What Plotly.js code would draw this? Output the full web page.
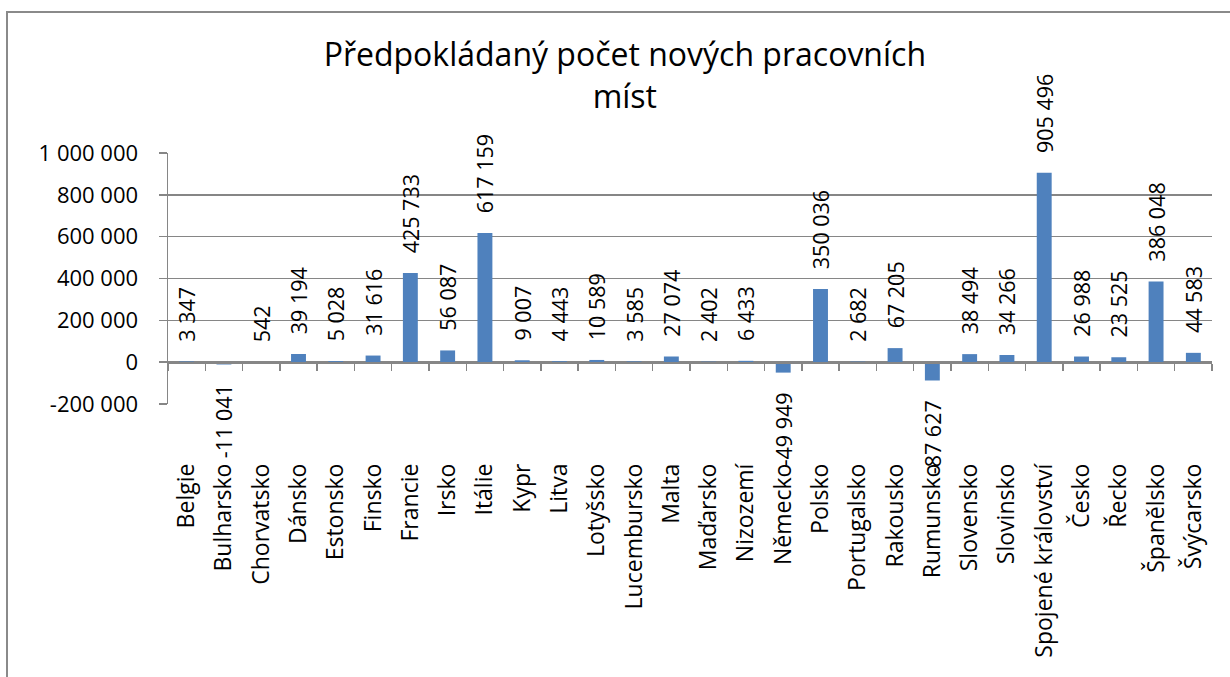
<!DOCTYPE html>
<html>
<head>
<meta charset="utf-8">
<script src="https://cdn.plot.ly/plotly-3.0.1.min.js"></script>
<style>
  html, body { margin: 0; padding: 0; background: #fff; overflow: hidden; }
  #frame { position: absolute; left: 6px; top: 11px; width: 1240px; height: 700px; border: 2px solid #8a8a8a; box-sizing: border-box; }
  #chart { position: absolute; left: 0; top: 0; width: 1230px; height: 677px; }
</style>
</head>
<body>
<div id="frame"></div>
<div id="chart"></div>
<script>
const categories = ["Belgie","Bulharsko","Chorvatsko","Dánsko","Estonsko","Finsko","Francie","Irsko","Itálie","Kypr","Litva","Lotyšsko","Lucembursko","Malta","Maďarsko","Nizozemí","Německo","Polsko","Portugalsko","Rakousko","Rumunsko","Slovensko","Slovinsko","Spojené království","Česko","Řecko","Španělsko","Švýcarsko"];
const values = [3347,-11041,542,39194,5028,31616,425733,56087,617159,9007,4443,10589,3585,27074,2402,6433,-49949,350036,2682,67205,-87627,38494,34266,905496,26988,23525,386048,44583];
const yTickVals = [-200000,0,200000,400000,600000,800000,1000000];
const yTickText = ["-200 000","0","200 000","400 000","600 000","800 000","1 000 000"];
const titleText = "Předpokládaný počet nových pracovních<br>míst";

const PAD = "\u00a0\u00a0\u00a0";
function fmt(v) {
  const s = Math.abs(v).toString().replace(/\B(?=(\d{3})+(?!\d))/g, " ");
  return v < 0 ? "-" + s + PAD : PAD + s;
}

const font = "Open Sans, Segoe UI, sans-serif";

const bars = {
  type: "bar",
  x: categories,
  y: values,
  text: values.map(fmt),
  textposition: "outside",
  textangle: -90,
  constraintext: "none",
  cliponaxis: false,
  textfont: { family: font, size: 21.5, color: "#000" },
  marker: { color: "#4F81BD" },
  hoverinfo: "x+y"
};

const ghost = {
  type: "scatter",
  mode: "none",
  x: categories,
  y: values,
  xaxis: "x2",
  yaxis: "y",
  hoverinfo: "skip",
  showlegend: false
};

const layout = {
  width: 1230,
  height: 677,
  margin: { l: 168, r: 18, t: 153, b: 273 },
  paper_bgcolor: "rgba(0,0,0,0)",
  plot_bgcolor: "rgba(0,0,0,0)",
  showlegend: false,
  bargap: 0.6,
  title: {
    text: titleText,
    font: { family: font, size: 32, color: "#000" },
    xref: "container",
    x: 0.508,
    xanchor: "center",
    yref: "container",
    y: 0.902,
    yanchor: "top"
  },
  xaxis: {
    type: "category",
    categoryarray: categories,
    range: [-0.5, categories.length - 0.5],
    tickangle: -90,
    ticks: "",
    ticklabelstandoff: 54,
    showgrid: false,
    zeroline: false,
    showline: false,
    tickfont: { family: font, size: 23, color: "#000" },
    automargin: false
  },
  xaxis2: {
    type: "category",
    categoryarray: categories,
    range: [-0.5, categories.length - 0.5],
    overlaying: "x",
    anchor: "free",
    position: 1/6,
    side: "bottom",
    showline: true,
    linecolor: "#868686",
    linewidth: 1.5,
    ticks: "outside",
    tickson: "boundaries",
    ticklen: 7,
    tickcolor: "#868686",
    tickwidth: 1.5,
    showticklabels: false,
    showgrid: false,
    zeroline: false
  },
  yaxis: {
    range: [-200000, 1000000],
    tickvals: yTickVals,
    ticktext: yTickText,
    tickfont: { family: font, size: 22, color: "#000" },
    showgrid: true,
    gridcolor: "#868686",
    gridwidth: 1.5,
    zeroline: false,
    showline: true,
    linecolor: "#868686",
    linewidth: 1.5,
    ticks: "outside",
    ticklen: 8,
    tickcolor: "#868686",
    tickwidth: 1.5,
    ticklabelstandoff: 16,
    automargin: false
  }
};

Plotly.newPlot("chart", [bars, ghost], layout, { displayModeBar: false, staticPlot: true });
</script>
</body>
</html>
